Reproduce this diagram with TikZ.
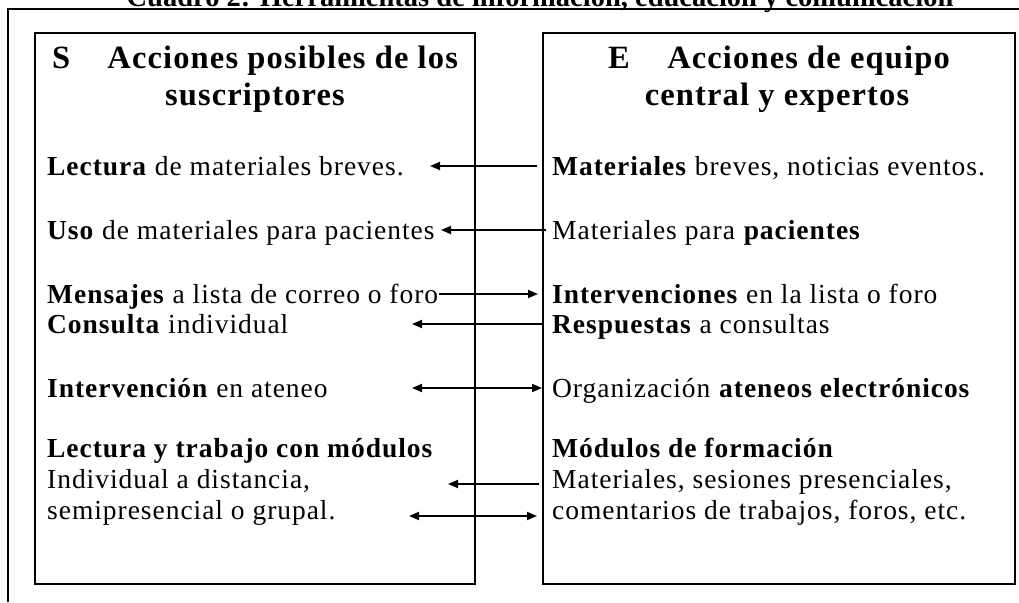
\documentclass[tikz,border=0pt]{standalone}
\usepackage{fontspec}
\setmainfont{Liberation Serif}[LetterSpace=3.5]
\newfontfamily\titlefont{Liberation Serif}
\usetikzlibrary{arrows.meta}
\tikzset{
  frame/.style={draw=black, line width=2pt},
  colbox/.style={draw=black, line width=2pt},
  txt/.style={anchor=base west, inner sep=0pt, font=\fontsize{27.5}{30}\selectfont},
  head/.style={anchor=base, inner sep=0pt, font=\fontsize{32.5}{38}\selectfont\bfseries},
  conn/.style={line width=1.8pt, -{Triangle[length=10pt,width=8pt]}},
  conn2/.style={line width=1.8pt, {Triangle[length=10pt,width=8pt]}-{Triangle[length=10pt,width=8pt]}}
}
\begin{document}
\begin{tikzpicture}[x=1pt,y=-1pt]
\useasboundingbox (0,0) rectangle (1019,602);
% title (cut off at top)
\node[anchor=base, inner sep=0pt, font=\titlefont\fontsize{28.5}{30}\selectfont\bfseries] (title) at (540,7) {Cuadro 2: Herramientas de información, educación y comunicación};
% outer frame
\coordinate (fbl) at (8,602);
\coordinate (ftl) at (8,9);
\coordinate (ftr) at (1019,9);
\draw[frame] (fbl) -- (ftl) -- (ftr);
% column boxes
\node[colbox, minimum width=440pt, minimum height=551pt, anchor=north west, inner sep=0pt] (L) at (34,32) {};
\node[colbox, minimum width=472pt, minimum height=551pt, anchor=north west, inner sep=0pt] (R) at (542,32) {};
% headings
\node[head] (hl1) at (255,68) {S\hspace{1.15em}Acciones posibles de los};
\node[head] (hl2) at (255,105) {suscriptores};
\node[head] (hr1) at (779,68) {E\hspace{1.15em}Acciones de equipo};
\node[head] (hr2) at (777,105) {central y expertos};
% left texts
\node[txt] (l1) at (47,175) {\textbf{Lectura} de materiales breves.};
\node[txt] (l2) at (47,239) {\textbf{Uso} de materiales para pacientes};
\node[txt] (l3) at (47,303) {\textbf{Mensajes} a lista de correo o foro};
\node[txt] (l4) at (47,333) {\textbf{Consulta} individual};
\node[txt] (l5) at (47,397) {\textbf{Intervención} en ateneo};
\node[txt] (l6) at (47,457) {\textbf{Lectura y trabajo con módulos}};
\node[txt] (l7) at (47,488) {Individual a distancia,};
\node[txt] (l8) at (47,519) {semipresencial o grupal.};
% right texts
\node[txt] (r1) at (552,175) {\textbf{Materiales} breves, noticias eventos.};
\node[txt] (r2) at (552,239) {Materiales para \textbf{pacientes}};
\node[txt] (r3) at (552,303) {\textbf{Intervenciones} en la lista o foro};
\node[txt] (r4) at (552,333) {\textbf{Respuestas} a consultas};
\node[txt] (r5) at (552,397) {Organización \textbf{ateneos electrónicos}};
\node[txt] (r6) at (552,457) {\textbf{Módulos de formación}};
\node[txt] (r7) at (552,488) {Materiales, sesiones presenciales,};
\node[txt] (r8) at (552,519) {comentarios de trabajos, foros, etc.};
% arrow end points
\coordinate (a1s) at (537,166); \coordinate (a1e) at (430,166);
\coordinate (a2s) at (546,230); \coordinate (a2e) at (441,230);
\coordinate (a3s) at (439,294); \coordinate (a3e) at (538,294);
\coordinate (a4s) at (542,324); \coordinate (a4e) at (412,324);
\coordinate (a5s) at (412,388); \coordinate (a5e) at (542,388);
\coordinate (a6s) at (539,484); \coordinate (a6e) at (448,484);
\coordinate (a7s) at (409,516); \coordinate (a7e) at (537,516);
\draw[conn] (a1s) -- (a1e);
\draw[conn] (a2s) -- (a2e);
\draw[conn] (a3s) -- (a3e);
\draw[conn] (a4s) -- (a4e);
\draw[conn2] (a5s) -- (a5e);
\draw[conn] (a6s) -- (a6e);
\draw[conn2] (a7s) -- (a7e);
\end{tikzpicture}
\end{document}
